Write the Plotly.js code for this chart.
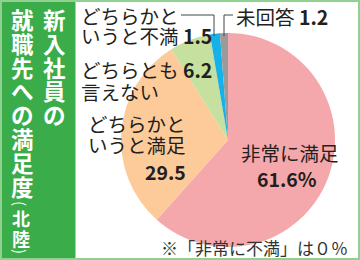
<!DOCTYPE html>
<html><head><meta charset="utf-8">
<script src="https://cdn.plot.ly/plotly-3.0.1.min.js"></script>
<style>html,body{margin:0;padding:0;background:#fff;}#c{width:360px;height:260px;}</style>
</head><body><div id="c"></div>
<script>
var categories = ["非常に満足", "どちらかというと満足", "どちらとも言えない", "どちらかというと不満", "未回答"];
var values = [61.6, 29.5, 6.2, 1.5, 1.2];
var colors = ["#f5a8ab", "#fdcb99", "#c6e0a0", "#14b2e8", "#9a9a9a"];
var titleCol1 = "新入社員の";
var titleCol2 = "就職先への満足度";
var titleSub = "北陸";
var note = "※「非常に不満」は０％";

var W = 360, H = 260;
function px(x){return x/W;}
function py(y){return 1 - y/H;}
var JP = "Noto Sans CJK JP";
var ann = [];
function txt(t, x, y, size, opts){
  opts = opts || {};
  ann.push({text:t, x:px(x), y:py(y), xref:'paper', yref:'paper', showarrow:false,
    xanchor:opts.xa||'center', yanchor:'middle', textangle:opts.angle||0, borderpad:0,
    font:{family:JP, size:size, color:opts.color||'#231f20', weight:opts.weight||400}});
}
// vertical title
for (var i=0;i<titleCol1.length;i++) txt(titleCol1[i], 54, 19+i*23.8, 22.5, {color:'#fff', weight:700});
for (var i=0;i<titleCol2.length;i++) txt(titleCol2[i], 22, 19+i*23.8, 22.5, {color:'#fff', weight:700});
txt("(", 21, 203, 15, {color:'#fff', weight:400, angle:90});
txt(titleSub[0], 21, 218, 18, {color:'#fff', weight:700});
txt(titleSub[1], 21, 238, 18, {color:'#fff', weight:700});
txt(")", 21, 251, 15, {color:'#fff', weight:400, angle:90});

// slice labels
var LS = 19.5;
txt("非常に満足", 290, 152, LS);
txt("<b>" + values[0] + "%</b>", 287, 178, LS);
txt("どちらかと", 187, 123, LS, {xa:'right'});
txt("いうと満足", 187, 144, LS, {xa:'right'});
txt("<b>" + values[1] + "</b>", 187, 171, LS, {xa:'right'});
txt("どちらとも <b>" + values[2] + "</b>", 80, 70, LS, {xa:'left'});
txt("言えない", 80, 91, LS, {xa:'left'});
txt("どちらかと", 80, 15, LS, {xa:'left'});
txt("いうと不満 <b>" + values[3] + "</b>", 80, 36, LS, {xa:'left'});
txt("未回答 <b>" + values[4] + "</b>", 235, 16, LS, {xa:'left'});
txt(note, 349, 247, 17, {xa:'right', color:'#333'});

var shapes = [
  {type:'rect', xref:'paper', yref:'paper', x0:0, x1:px(75), y0:0, y1:1, fillcolor:'#3aac4a', line:{width:0}, layer:'below'},
  {type:'rect', xref:'paper', yref:'paper', x0:px(1), x1:px(359), y0:py(259), y1:py(1), fillcolor:'rgba(0,0,0,0)', line:{color:'#8fd28f', width:2}},
  {type:'line', xref:'paper', yref:'paper', x0:px(75.5), x1:px(75.5), y0:0, y1:1, line:{color:'#9fd89f', width:1}}
];
function seg(x0,y0,x1,y1){shapes.push({type:'line', xref:'paper', yref:'paper', x0:px(x0), y0:py(y0), x1:px(x1), y1:py(y1), line:{color:'#444', width:1}});}
seg(181,15,214,15); seg(214,15,214,36);
seg(233,15,224,15); seg(224,15,224,36);

var cx = 228, cy = 140, r = 107;
var data = [{
  type:'pie', labels:categories, values:values, sort:false, direction:'clockwise', rotation:0,
  marker:{colors:colors, line:{width:0}}, textinfo:'none', hoverinfo:'none',
  domain:{x:[px(cx-r), px(cx+r)], y:[py(cy+r), py(cy-r)]}
}];
var layout = {width:W, height:H, margin:{l:0,r:0,t:0,b:0}, showlegend:false,
  paper_bgcolor:'#fff', annotations:ann, shapes:shapes};
Plotly.newPlot('c', data, layout, {displayModeBar:false, staticPlot:true});
</script></body></html>
